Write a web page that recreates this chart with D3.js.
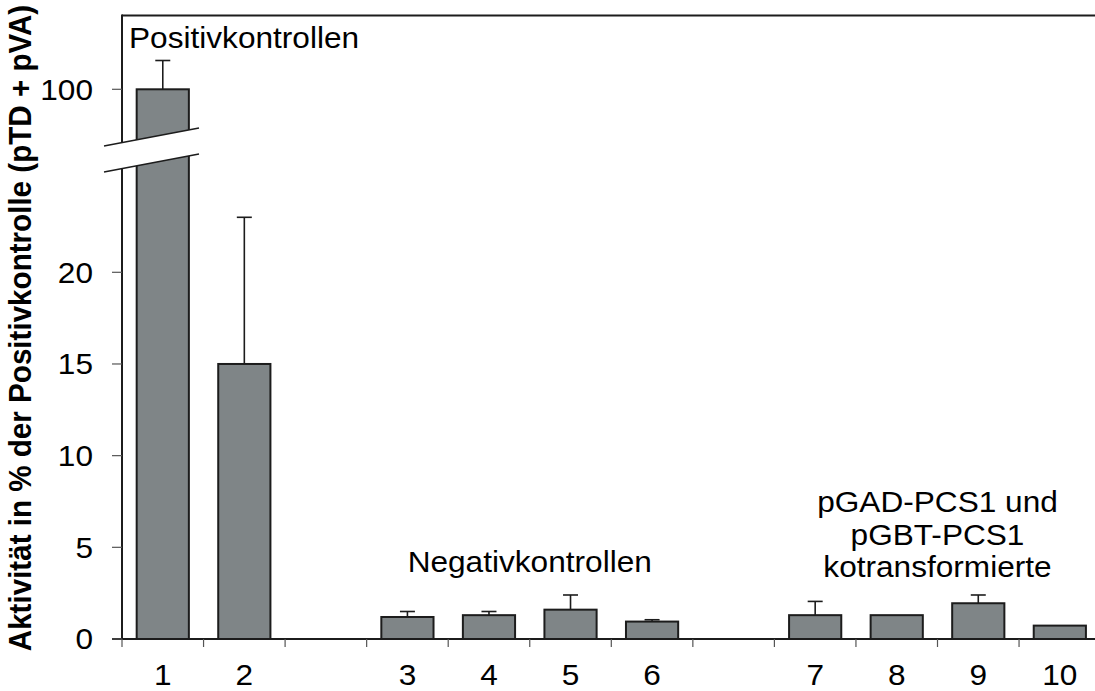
<!DOCTYPE html>
<html>
<head>
<meta charset="utf-8">
<script src="https://cdn.jsdelivr.net/npm/d3@7"></script>
<style>
  body { margin: 0; background: #fff; }
  svg { display: block; }
</style>
</head>
<body>
<svg id="chart" width="1095" height="691"></svg>
<script>
// Slot labels along the x axis (empty strings are spacer slots between groups)
const slotLabels = ["1", "2", "", "3", "4", "5", "6", "", "7", "8", "9", "10"];
// Bar categories, mean activity (%) and upper error
const categories = ["1", "2", "3", "4", "5", "6", "7", "8", "9", "10"];
const values = [100, 15, 1.2, 1.3, 1.6, 0.95, 1.3, 1.3, 1.95, 0.73];
const errors = [16, 8, 0.3, 0.2, 0.8, 0.1, 0.75, 0, 0.45, 0];
// Axis ticks for the lower and upper (broken) segments
const lowTicks = [0, 5, 10, 15, 20];
const highTicks = [100];
// Group annotations
const posLines = ["Positivkontrollen"];
const negLines = ["Negativkontrollen"];
const coLines = ["pGAD-PCS1 und", "pGBT-PCS1", "kotransformierte"];
const yTitle = "Aktivität in % der Positivkontrolle (pTD + pVA)";

(function draw() {
  const svg = d3.select("#chart");
  const FONT = "'Liberation Sans', Arial, Helvetica, sans-serif";
  const FS = 29, SX = 1.09;
  const INK = "#1c1c1c";

  const plotLeft = 122, plotTop = 15.5, base = 639, plotRight = 1100.6;

  const x = d3.scaleBand()
    .domain(d3.range(slotLabels.length))
    .range([plotLeft, plotRight])
    .paddingInner(0.36)
    .paddingOuter(0.18);
  const step = x.step();
  const slotStart = i => plotLeft + i * step;

  const yLow = d3.scaleLinear().domain([0, 20]).range([base, 272.3]);
  const yHigh = d3.scaleLinear().domain([70, 140]).range([143.3, 17.3]);
  const yFor = (i) => i === 0 ? yHigh : yLow;

  function stretchedText(g, str, tx, ty, anchor, weight) {
    return g.append("text")
      .attr("transform", `translate(${tx},${ty}) scale(${SX},1)`)
      .attr("text-anchor", anchor)
      .attr("font-family", FONT)
      .attr("font-size", FS)
      .attr("font-weight", weight || "normal")
      .attr("fill", "#000")
      .text(str);
  }

  const bars = categories.map((c, i) => ({
    cat: c, v: values[i], e: errors[i], idx: i, slot: slotLabels.indexOf(c)
  }));

  // Bars (the first bar spans both axis segments)
  svg.append("g").selectAll("rect").data(bars).join("rect")
    .attr("x", d => x(d.slot))
    .attr("width", x.bandwidth())
    .attr("y", d => yFor(d.idx)(d.v))
    .attr("height", d => yLow(0) - yFor(d.idx)(d.v))
    .attr("fill", "#7f8587")
    .attr("stroke", INK)
    .attr("stroke-width", 2);

  // Upper error bars
  const eg = svg.append("g").attr("stroke", INK).attr("stroke-width", 1.6);
  bars.filter(d => d.e > 0).forEach(d => {
    const cx = x(d.slot) + x.bandwidth() / 2;
    const ys = yFor(d.idx);
    eg.append("line").attr("x1", cx).attr("x2", cx)
      .attr("y1", ys(d.v)).attr("y2", ys(d.v + d.e));
    eg.append("line").attr("x1", cx - 7.5).attr("x2", cx + 7.5)
      .attr("y1", ys(d.v + d.e)).attr("y2", ys(d.v + d.e));
  });

  // Frame: top line, left axis, baseline
  const frame = svg.append("g").attr("stroke", INK).attr("stroke-width", 2).attr("fill", "none");
  frame.append("line").attr("x1", plotLeft).attr("x2", 1095).attr("y1", plotTop).attr("y2", plotTop);
  frame.append("line").attr("x1", plotLeft).attr("x2", plotLeft).attr("y1", plotTop - 1).attr("y2", base);
  frame.append("line").attr("x1", plotLeft - 10).attr("x2", 1095).attr("y1", base).attr("y2", base);

  // Y ticks and labels
  const tg = svg.append("g");
  const yTickRows = lowTicks.map(t => ({ t, y: yLow(t) }))
    .concat(highTicks.map(t => ({ t, y: yHigh(t) })));
  yTickRows.forEach(r => {
    tg.append("line").attr("x1", plotLeft - 10).attr("x2", plotLeft)
      .attr("y1", r.y).attr("y2", r.y)
      .attr("stroke", "#555").attr("stroke-width", 1.2);
    stretchedText(tg, String(r.t), 93, r.y + 0.358 * FS, "end");
  });

  // X ticks at slot boundaries and category labels
  slotLabels.forEach((lab, i) => {
    const xb = slotStart(i);
    tg.append("line").attr("x1", xb).attr("x2", xb)
      .attr("y1", base).attr("y2", base + 8)
      .attr("stroke", "#555").attr("stroke-width", 1.2);
    if (lab) stretchedText(tg, lab, x(i) + x.bandwidth() / 2, 685, "middle");
  });

  // Axis break: white band between two slanted lines
  const slope = -0.19;
  const bx0 = plotLeft - 18, bx1 = plotLeft + 77;
  const yUpAtAxis = 142.6, yLoAtAxis = 168.6;
  const yAt = (y0, xx) => y0 + slope * (xx - plotLeft);
  svg.append("polygon")
    .attr("points", [
      [bx0, yAt(yUpAtAxis, bx0)], [bx1, yAt(yUpAtAxis, bx1)],
      [bx1, yAt(yLoAtAxis, bx1)], [bx0, yAt(yLoAtAxis, bx0)]
    ].map(p => p.join(",")).join(" "))
    .attr("fill", "#fff");
  [yUpAtAxis, yLoAtAxis].forEach(y0 => {
    svg.append("line")
      .attr("x1", bx0).attr("y1", yAt(y0, bx0))
      .attr("x2", bx1).attr("y2", yAt(y0, bx1))
      .attr("stroke", INK).attr("stroke-width", 1.5);
  });

  // Group annotations
  const ag = svg.append("g");
  posLines.forEach((s, k) => stretchedText(ag, s, plotLeft + 7, 48 + k * 32.5, "start"));
  const negCenter = (slotStart(3) + slotStart(7)) / 2;
  negLines.forEach((s, k) => stretchedText(ag, s, negCenter, 572 + k * 32.5, "middle"));
  const coCenter = (slotStart(8) + slotStart(12)) / 2;
  coLines.forEach((s, k) => stretchedText(ag, s, coCenter, 512 + k * 32.5, "middle"));

  // Y axis title
  svg.append("text")
    .attr("transform", `translate(31,328) scale(${SX},1) rotate(-90)`)
    .attr("text-anchor", "middle")
    .attr("font-family", FONT)
    .attr("font-size", 29.6)
    .attr("font-weight", "bold")
    .attr("fill", "#000")
    .text(yTitle);
})();
</script>
</body>
</html>
